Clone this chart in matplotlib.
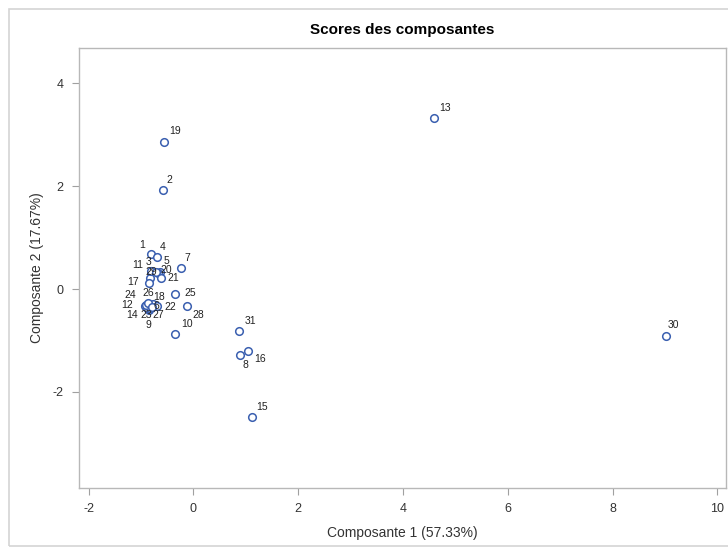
import matplotlib.pyplot as plt
from matplotlib.patches import Rectangle

# Scores on the first two principal components, one per observation
obs = list(range(1, 32))
comp1 = [-0.81, -0.58, -0.83, -0.70, -0.64, -0.81, -0.24, 0.89, -0.85, -0.35,
         -0.81, -0.93, 4.59, -0.89, 1.12, 1.04, -0.85, -0.77, -0.56, -0.68,
         -0.62, -0.70, -0.83, -0.91, -0.35, -0.87, -0.79, -0.12, -0.72, 9.02,
         0.87]
comp2 = [0.68, 1.93, 0.22, 0.62, 0.33, -0.31, 0.41, -1.28, -0.41, -0.87,
         0.35, -0.33, 3.32, -0.37, -2.49, -1.20, 0.12, -0.29, 2.86, 0.31,
         0.22, -0.33, -0.37, -0.31, -0.10, -0.27, -0.35, -0.33, 0.33, -0.91,
         -0.81]

# label offsets in pixels (dx, dy with y pointing down), to mimic SAS placement
label_offsets = {
    1: (-9, -9), 2: (6, -10), 3: (-1, -16), 4: (6, -10), 5: (7, -11),
    6: (5, 1), 7: (6, -10), 8: (5, 10), 9: (0, 15), 10: (12, -10),
    11: (-13, -6), 12: (-18, -1), 13: (11, -10), 14: (-15, 7), 15: (10, -10),
    16: (12, 8), 17: (-16, -1), 18: (6, -7), 19: (11, -11), 20: (8, -3),
    21: (12, 0), 22: (14, 1), 23: (-4, 7), 24: (-16, -10), 25: (15, -1),
    26: (0, -10), 27: (6, 8), 28: (11, 9), 29: (-4, 0), 30: (7, -11),
    31: (11, -10),
}

plt.rcParams['font.family'] = ['Liberation Sans', 'DejaVu Sans']
plt.rcParams['axes.unicode_minus'] = False

fig = plt.figure(figsize=(7.28, 5.49), dpi=100)
W, H = 728, 549
ax = fig.add_axes([79 / W, 1 - 488 / H, (726 - 79) / W, (488 - 48) / H])

# outer light frame of the SAS graph
fig.patches.append(Rectangle((9 / W, 3 / H), 1, 1 - 12 / H, transform=fig.transFigure,
                             fill=False, edgecolor='#d4d4d4', linewidth=1.2))

ax.scatter(comp1, comp2, s=30, facecolors='white', edgecolors='#3a5fb0',
           linewidths=1.1, zorder=3)

for i, x, y in zip(obs, comp1, comp2):
    dx, dy = label_offsets[i]
    ax.annotate(str(i), (x, y), xytext=(dx, -dy), textcoords='offset pixels',
                ha='center', va='center', fontsize=7.5, color='#222222')

ax.set_xlim(-2.185, 10.166)
ax.set_ylim(-3.866, 4.686)
ax.set_xticks([-2, 0, 2, 4, 6, 8, 10])
ax.set_yticks([-2, 0, 2, 4])

for sp in ax.spines.values():
    sp.set_color('#b8b8b8')
    sp.set_linewidth(1.0)
ax.tick_params(direction='out', length=5, color='#a0a0a0', labelcolor='#333333',
               labelsize=9, pad=6)

ax.set_xlabel('Composante 1 (57.33%)', fontsize=10, color='#333333', labelpad=8)
ax.set_ylabel('Composante 2 (17.67%)', fontsize=10, color='#333333', labelpad=6)
ax.set_title('Scores des composantes', fontsize=11, fontweight='bold', pad=10)

fig.savefig('out.png', dpi=100)
